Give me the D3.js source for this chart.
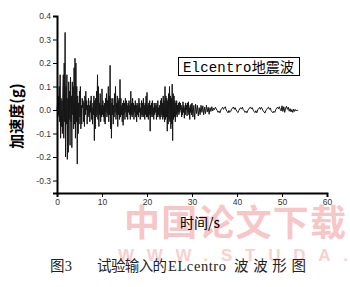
<!DOCTYPE html>
<html><head><meta charset="utf-8">
<script src="https://cdn.jsdelivr.net/npm/d3@7"></script>
<style>html,body{margin:0;padding:0;background:#fff;}svg{display:block;}</style>
</head><body>
<svg id="c" width="350" height="287"></svg>
<script>
// Segment A: t = 0.0 .. 29.9 s, step 0.1 s (acceleration, g)
const segAStart = 0, segAStep = 0.1;
const segA = [
 0.0,0.02,-0.03,0.06,-0.02,0.1,-0.05,0.15,-0.12,0.05,
 -0.07,0.04,-0.1,0.08,0.15,-0.12,0.2,-0.05,0.33,-0.2,
 0.1,-0.06,0.15,-0.21,0.05,-0.18,0.12,-0.04,0.08,-0.15,
 0.14,-0.05,0.06,-0.16,0.12,-0.02,0.1,-0.08,0.18,-0.06,
 0.22,-0.12,0.2,-0.05,0.1,-0.23,0.06,-0.1,0.03,-0.06,
 0.08,-0.03,0.1,-0.08,0.02,-0.06,0.05,0.01,0.04,-0.05,
 0.03,-0.07,0.06,-0.02,0.08,0.0,0.04,-0.06,0.02,-0.03,
 0.05,-0.02,0.02,-0.05,0.04,-0.01,0.06,-0.04,0.01,-0.06,
 0.03,-0.02,0.06,-0.13,0.04,-0.08,0.05,-0.03,0.08,-0.02,
 0.15,-0.04,0.1,-0.07,0.03,-0.02,0.07,-0.05,0.02,-0.03,
 0.09,-0.02,0.04,-0.03,0.02,-0.05,0.03,-0.06,0.05,-0.01,
 0.07,-0.03,0.04,-0.02,0.1,-0.05,0.06,-0.02,0.19,-0.08,
 0.05,-0.12,0.03,-0.02,0.05,-0.06,0.02,-0.03,0.07,-0.01,
 0.1,-0.04,0.03,-0.02,0.06,-0.07,0.04,-0.02,0.05,-0.04,
 0.13,-0.03,0.05,-0.02,0.02,-0.05,0.03,-0.065,0.04,-0.02,
 0.03,-0.04,0.05,-0.01,0.04,-0.03,0.02,-0.04,0.03,-0.01,
 0.04,-0.02,0.02,-0.04,0.08,-0.02,0.03,-0.03,0.05,-0.02,
 0.03,-0.04,0.02,-0.01,0.04,-0.03,0.02,-0.05,0.03,-0.02,
 0.02,-0.03,0.05,-0.01,0.03,-0.04,0.01,-0.02,0.04,-0.03,
 0.03,-0.02,0.05,-0.03,0.02,-0.04,0.03,-0.02,0.06,-0.03,
 0.075,-0.03,0.02,-0.04,0.03,-0.02,0.04,-0.09,0.02,-0.03,
 0.03,-0.02,0.04,-0.03,0.01,-0.04,0.03,-0.02,0.02,-0.01,
 0.03,-0.04,0.02,-0.03,0.04,-0.02,0.01,-0.03,0.02,-0.04,
 0.04,-0.03,0.05,-0.02,0.03,-0.04,0.06,-0.03,0.04,-0.05,
 0.1,-0.04,0.06,-0.03,0.05,-0.09,0.04,-0.06,0.07,-0.04,
 0.1,-0.05,0.06,-0.08,0.05,-0.06,0.11,-0.13,0.07,-0.04,
 0.06,-0.03,0.04,-0.05,0.03,-0.02,0.04,-0.03,0.02,-0.01,
 0.03,-0.02,0.035,-0.01,0.03,0.0,0.02,-0.03,0.01,-0.02,
 0.035,-0.01,0.02,-0.035,0.01,-0.02,0.03,0.0,0.02,-0.025,
 0.03,-0.01,0.035,-0.02,0.01,-0.04,0.02,-0.01,0.025,-0.02
];
// Segment B: t = 30.0 .. 53.6 s, step 0.2 s
const segBStart = 30, segBStep = 0.2;
const segB = [
 0.03,-0.03,0.02,-0.04,0.025,
 -0.015,0.02,-0.025,0.01,-0.02,
 0.02,-0.01,0.018,-0.02,0.012,
 -0.015,0.02,-0.008,0.012,-0.018,
 0.01,-0.006,0.014,-0.004,0.008,
 0.002,0.012,0.004,-0.002,-0.01,
 -0.004,-0.012,0.0,0.006,0.012,
 0.003,0.01,0.014,0.0,-0.006,
 -0.012,-0.002,-0.01,-0.006,0.004,
 0.008,0.013,0.003,0.01,0.0,
 -0.006,-0.011,-0.002,0.005,0.01,
 0.004,0.012,0.001,-0.003,-0.01,
 -0.005,-0.012,-0.002,0.004,0.009,
 0.013,0.005,0.01,-0.001,-0.007,
 -0.011,-0.003,-0.012,0.0,0.006,
 0.011,0.003,0.012,0.005,-0.003,
 -0.008,-0.013,-0.003,0.003,0.009,
 0.012,0.003,0.009,-0.003,-0.008,
 -0.012,-0.005,-0.01,0.001,0.008,
 0.012,0.005,0.014,0.003,-0.004,
 0.018,-0.006,0.014,-0.01,0.008,
 0.016,0.003,0.012,-0.005,0.006,
 -0.008,0.002,-0.01,0.004,-0.006,
 0.002,-0.004,0.0,-0.002
];
const xTicks = [0,10,20,30,40,50,60];
const yTicks = [-0.3,-0.2,-0.1,0.0,0.1,0.2,0.3,0.4];
const yTickLabels = ["-0.3","-0.2","-0.1","0.0","0.1","0.2","0.3","0.4"];
const legendLabel = "Elcentro地震波";
const xTitle = "时间/s";
const yTitle = "加速度(g)";
const captionParts = ["图3", "试验输入的", "ELcentro", "波波形图"];

const pts = segA.map((v,i)=>[segAStart+i*segAStep, v])
  .concat(segB.map((v,i)=>[segBStart+i*segBStep, v]));

const svg = d3.select("#c");
const x = d3.scaleLinear().domain([0,60]).range([57,327]);
const y = d3.scaleLinear().domain([-0.353,0.4]).range([193,16]);

// watermark
svg.append("text").attr("x",124).attr("y",236).attr("font-family","Noto Sans CJK SC")
  .attr("font-weight","bold").attr("font-size",36).attr("fill","#f7c6c6")
  .attr("textLength",222).text("中国论文下载");
svg.append("text").attr("x",118).attr("y",261).attr("font-family","Liberation Sans, Arial")
  .attr("font-weight","bold").attr("font-size",17).attr("fill","#f9d0d0")
  .attr("textLength",230).text("WWW.STUDA.");

// data line
svg.append("path").datum(pts)
  .attr("d", d3.line().x(d=>x(d[0])).y(d=>y(d[1])))
  .attr("fill","none").attr("stroke","#151515").attr("stroke-width",1);

// axes
const yMinor = d3.range(-0.35,0.401,0.05);
const yg = svg.append("g").attr("transform","translate(57,0)");
yg.call(d3.axisLeft(y).tickValues(yMinor).tickSize(2.5).tickFormat(""));
yg.call(d3.axisLeft(y).tickValues(yTicks).tickSize(4).tickFormat((d,i)=>yTickLabels[i]));
yg.selectAll(".domain").attr("stroke","#000").attr("stroke-width",2);
yg.selectAll("text").attr("font-family","Liberation Sans, Arial").attr("font-size",8.5).attr("fill","#333").attr("x",-6);

const xMinor = d3.range(0,60.1,5);
const xg = svg.append("g").attr("transform","translate(0,193)");
xg.call(d3.axisBottom(x).tickValues(xMinor).tickSize(2.5).tickFormat(""));
xg.call(d3.axisBottom(x).tickValues(xTicks).tickSize(4).tickFormat(d3.format("d")));
xg.selectAll(".domain").attr("stroke","#000").attr("stroke-width",2);
xg.selectAll("text").attr("font-family","Liberation Sans, Arial").attr("font-size",8.5).attr("fill","#333").attr("y",6);

// legend
svg.append("rect").attr("x",178.5).attr("y",57.5).attr("width",121).attr("height",18)
  .attr("fill","#fff").attr("stroke","#000").attr("stroke-width",1);
svg.append("text").attr("x",183).attr("y",71.5).attr("font-family","Liberation Mono, Noto Sans CJK SC")
  .attr("font-size",14).attr("fill","#000").attr("textLength",111).text(legendLabel);

// titles
svg.append("text").attr("x",200).attr("y",228).attr("text-anchor","middle")
  .attr("font-family","Noto Sans CJK SC").attr("font-size",14).attr("fill","#000").text(xTitle);
svg.append("text").attr("transform","translate(22,116) rotate(-90)").attr("text-anchor","middle")
  .attr("font-family","Noto Sans CJK SC").attr("font-weight","bold").attr("font-size",15).attr("fill","#000").text(yTitle);

// caption (pieces placed like the reference's spacing)
const capX = [50, 97, 168, 234];
const capW = [22, 70, 58, 72];
captionParts.forEach((p,i)=>svg.append("text").attr("x",capX[i]).attr("y",271)
  .attr("font-family","Liberation Serif, Noto Sans CJK SC").attr("font-size",14.5)
  .attr("fill","#222").attr("textLength",capW[i]).text(p));
</script>
</body></html>
